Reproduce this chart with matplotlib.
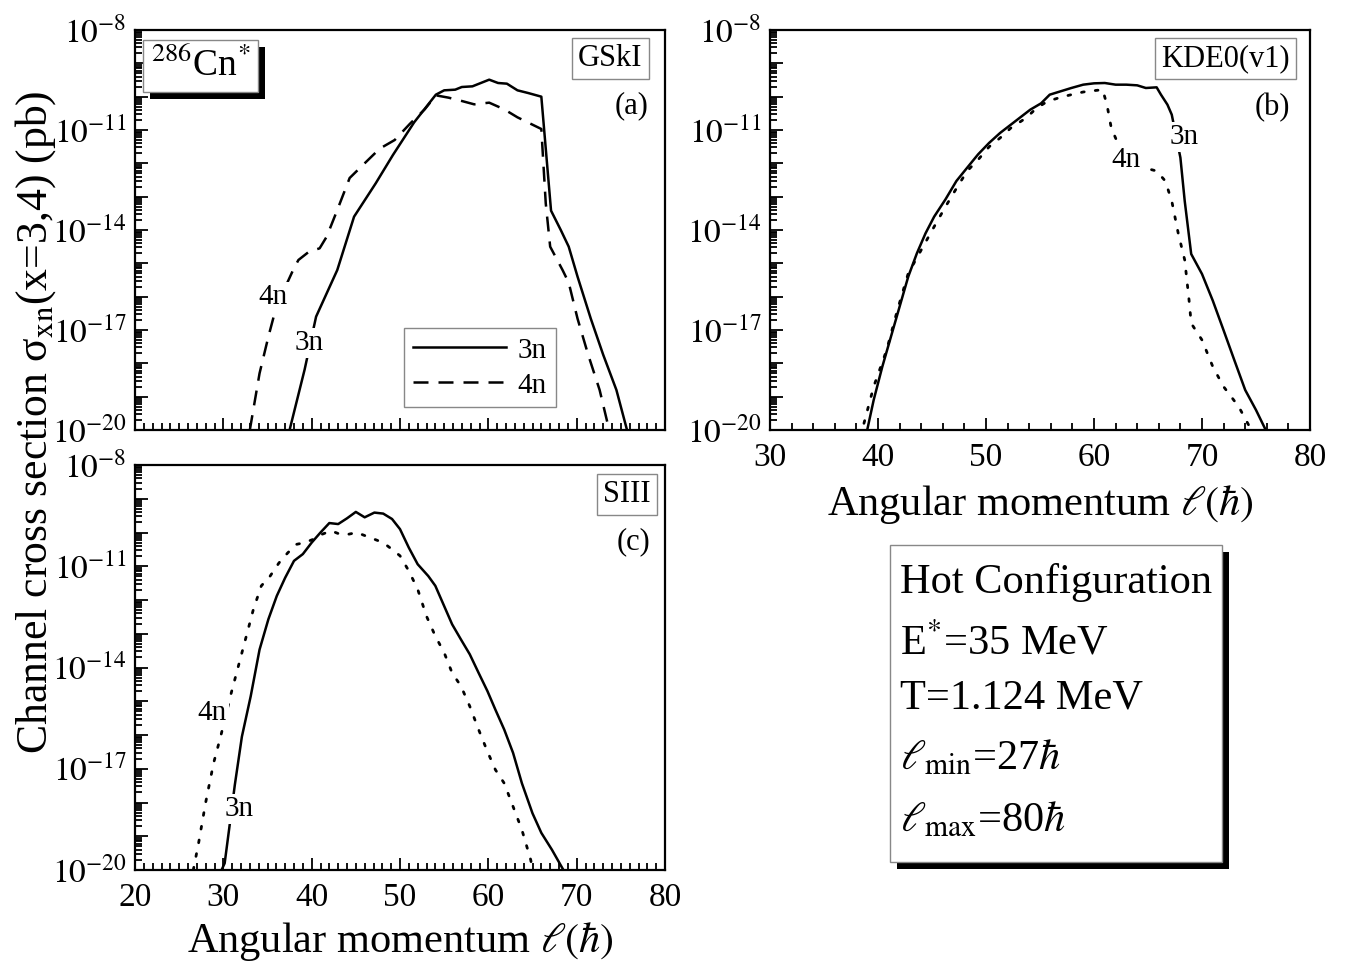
import numpy as np
import matplotlib
matplotlib.use("Agg")
import matplotlib.pyplot as plt
import matplotlib.patheffects as pe
from matplotlib.ticker import MultipleLocator, FixedLocator, NullFormatter
from matplotlib.patches import Rectangle

plt.rcParams['font.family'] = ['Liberation Serif', 'DejaVu Serif']
plt.rcParams['mathtext.fontset'] = 'stix'

# ---------------- data (log10 of cross section in pb) ----------------
# Panel (a) GSkI
a_l_3n = [37.5, 39.2, 40.5, 42.9, 44.8, 47.25, 49.2, 51.6, 54.06, 55.0, 56.25, 57.0, 58.2,
          60.1, 61.1, 62.1, 63.3, 64.5, 66.0, 67.1, 68.2, 69.1, 70.1, 71.6, 73.0, 74.5, 75.7]
a_s_3n = [-20, -18.19, -16.6, -15.2, -13.6, -12.6, -11.75, -10.77, -9.94, -9.81, -9.79, -9.71, -9.69,
          -9.49, -9.59, -9.61, -9.81, -9.89, -10.0, -13.42, -14.0, -14.5, -15.4, -16.66, -17.74, -18.8, -20]
a_l_4n = [33.0, 34.1, 35.1, 36.0, 37.9, 38.5, 39.7, 40.9, 41.7, 42.9, 44.3, 45.8, 47.7, 49.4, 51.1,
          52.8, 54.06, 55.5, 57.0, 58.4, 60.1, 61.8, 63.3, 66.0, 66.5, 67.0, 68.4, 69.1, 70.1,
          71.3, 72.6, 73.5]
a_s_4n = [-20, -18.3, -17.2, -16.3, -15.2, -14.9, -14.65, -14.55, -14.2, -13.4, -12.44, -12.05, -11.56,
          -11.3, -10.82, -10.38, -9.96, -10.03, -10.13, -10.23, -10.18, -10.38, -10.62, -10.97, -13.2,
          -14.5, -15.2, -15.58, -16.66, -17.74, -18.8, -19.8]

# Panel (b) KDE0(v1)
b_l_3n = [39.0, 39.6, 40.4, 41.2, 42.0, 42.8, 43.6, 44.4, 45.2, 46.25, 47.26, 48.26, 49.27, 50.28,
          51.3, 52.3, 53.3, 54.1, 55.1, 55.9, 56.9, 57.9, 59.0, 60.0, 61.0, 62.0, 63.0, 64.0, 64.8,
          65.8, 66.2, 66.8, 67.2, 68.0, 68.4, 69.0, 70.0, 71.0, 72.0, 73.0, 74.0, 75.0, 75.9]
b_s_3n = [-20, -19.1, -18.1, -17.2, -16.3, -15.4, -14.7, -14.1, -13.6, -13.08, -12.53, -12.13, -11.73,
          -11.39, -11.09, -10.84, -10.59, -10.39, -10.2, -9.94, -9.84, -9.74, -9.64, -9.6, -9.59,
          -9.64, -9.64, -9.66, -9.74, -9.72, -9.94, -10.24, -10.54, -11.83, -13.13, -14.72, -15.32,
          -16.12, -17.01, -17.91, -18.8, -19.4, -20]
b_l_4n = [38.7, 39.6, 40.8, 41.8, 42.8, 44.0, 45.2, 46.25, 47.3, 48.26, 49.3, 50.3, 51.3, 52.3,
          53.7, 54.7, 55.7, 56.9, 57.9, 59.0, 60.0, 60.8, 61.2, 61.6, 63.0, 64.6, 65.8, 66.6, 67.2,
          67.8, 68.4, 68.8, 69.0, 70.0, 71.0, 72.0, 73.4, 74.4]
b_s_4n = [-19.8, -18.7, -17.6, -16.4, -15.3, -14.6, -13.9, -13.3, -12.73, -12.23, -11.88, -11.5,
          -11.24, -10.94, -10.64, -10.34, -10.14, -10.02, -9.94, -9.86, -9.82, -9.79, -10.24, -10.94,
          -12.0, -12.13, -12.23, -12.53, -13.13, -14.1, -14.9, -16.1, -16.8, -17.3, -18.1, -18.7,
          -19.3, -19.9]

# Panel (c) SIII
c_l_3n = [29.8, 30.15, 30.65, 31.3, 32.1, 33.1, 34.1, 35.1, 36.05, 37.0, 38.0, 39.0, 40.0, 41.0,
          42.0, 43.0, 44.0, 45.0, 46.0, 47.1, 48.1, 49.1, 50.0, 51.0, 52.0, 53.2, 54.0, 55.0, 55.9,
          56.9, 57.9, 58.9, 59.9, 60.8, 61.8, 62.8, 63.8, 65.0, 66.0, 67.2, 68.5]
c_s_3n = [-20, -19.8, -18.8, -17.48, -16.05, -14.85, -13.47, -12.57, -11.88, -11.34, -10.84, -10.64,
          -10.3, -10.0, -9.72, -9.75, -9.58, -9.39, -9.55, -9.41, -9.44, -9.6, -9.9, -10.45, -10.94,
          -11.29, -11.58, -12.18, -12.72, -13.17, -13.61, -14.16, -14.7, -15.25, -15.84, -16.53,
          -17.43, -18.32, -18.9, -19.4, -20]
c_l_4n = [26.6, 27.2, 28.0, 28.9, 29.7, 30.9, 31.6, 32.4, 33.4, 34.3, 35.3, 36.3, 37.3, 38.3, 39.2,
          40.2, 41.2, 42.2, 43.2, 44.2, 45.1, 46.1, 47.1, 48.1, 49.1, 50.0, 51.0, 52.0, 53.0, 54.0,
          55.0, 55.9, 56.9, 57.9, 58.9, 59.9, 60.8, 61.8, 62.8, 63.8, 64.8, 65.0]
c_s_4n = [-20, -19.2, -18.0, -16.83, -16.04, -14.75, -14.06, -13.27, -12.28, -11.58, -11.29, -10.9,
          -10.6, -10.35, -10.3, -10.2, -10.05, -9.95, -10.05, -10.05, -10.0, -10.1, -10.2, -10.3,
          -10.5, -10.69, -11.14, -11.68, -12.48, -13.07, -13.56, -14.16, -14.55, -15.15, -15.84,
          -16.49, -17.03, -17.43, -18.12, -18.81, -19.7, -20]

ytick_exps = [-20, -19, -18, -17, -16, -15, -14, -13, -12, -11, -10, -9, -8]
ytick_labels = [r'$10^{-20}$', '', '', r'$10^{-17}$', '', '', r'$10^{-14}$', '', '',
                r'$10^{-11}$', '', '', r'$10^{-8}$']

# ---------------- figure ----------------
W, H = 1351, 966
fig = plt.figure(figsize=(W / 100, H / 100), dpi=100)

def px_axes(x0, y0, x1, y1):
    return fig.add_axes([x0 / W, 1 - y1 / H, (x1 - x0) / W, (y1 - y0) / H])

axA = px_axes(135, 30, 665, 430)
axB = px_axes(770, 30, 1310, 430)
axC = px_axes(135, 465, 665, 870)

minor_y = [k * 10.0 ** n for n in range(-20, -8) for k in range(2, 10)]

def style(ax, xlim, xminor, show_xlabels):
    ax.set_yscale('log')
    ax.set_ylim(1e-20, 1e-8)
    ax.set_xlim(*xlim)
    ax.yaxis.set_major_locator(FixedLocator([10.0 ** e for e in ytick_exps]))
    ax.set_yticklabels(ytick_labels)
    ax.yaxis.set_minor_locator(FixedLocator(minor_y))
    ax.yaxis.set_minor_formatter(NullFormatter())
    ax.xaxis.set_major_locator(MultipleLocator(10))
    ax.xaxis.set_minor_locator(MultipleLocator(xminor))
    ax.tick_params(which='both', direction='in', top=False, right=False, width=1.3)
    ax.tick_params(which='major', length=9, labelsize=24)
    ax.tick_params(axis='y', which='major', pad=6)
    ax.tick_params(axis='x', which='major', pad=9)
    ax.tick_params(which='minor', length=5)
    if not show_xlabels:
        ax.set_xticklabels([])
    for s in ax.spines.values():
        s.set_linewidth(1.6)

style(axA, (20, 80), 1, False)
style(axB, (30, 80), 2, True)
style(axC, (20, 80), 1, True)

lw = 1.8
dash = (0, (6, 4))
dot = (0, (1, 4))

def P(v):
    return 10.0 ** np.asarray(v)

axA.plot(a_l_3n, P(a_s_3n), color='black', lw=lw, label='3n')
axA.plot(a_l_4n, P(a_s_4n), color='black', lw=lw, ls=dash, label='4n')
axB.plot(b_l_3n, P(b_s_3n), color='black', lw=lw)
axB.plot(b_l_4n, P(b_s_4n), color='black', lw=2.0, ls=dot, dash_capstyle='round')
axC.plot(c_l_3n, P(c_s_3n), color='black', lw=lw)
axC.plot(c_l_4n, P(c_s_4n), color='black', lw=2.0, ls=dot, dash_capstyle='round')

leg = axA.legend(loc='lower left', bbox_to_anchor=(0.48, 0.02), fontsize=21, handlelength=3.2,
                 frameon=True, fancybox=False, edgecolor='#888888', framealpha=1,
                 borderpad=0.3, labelspacing=0.3, handletextpad=0.4)
leg.get_frame().set_linewidth(1.0)

def curve_label(ax, x, y, s):
    ax.text(x, 10.0 ** y, s, fontsize=21, ha='center', va='center', zorder=5,
            bbox=dict(facecolor='white', edgecolor='none', pad=1.5))

curve_label(axA, 35.6, -16.0, '4n')
curve_label(axA, 39.7, -17.4, '3n')
curve_label(axB, 68.3, -11.2, '3n')
curve_label(axB, 63.0, -11.9, '4n')
curve_label(axC, 28.7, -15.35, '4n')
curve_label(axC, 31.8, -18.2, '3n')

def boxed(ax, x, y, s):
    ax.text(x, y, s, transform=ax.transAxes, fontsize=22, ha='center', va='center', zorder=6,
            bbox=dict(boxstyle='square,pad=0.2', facecolor='white', edgecolor='#888888', lw=1.0))

boxed(axA, 0.897, 0.928, 'GSkI')
boxed(axB, 0.843, 0.929, 'KDE0(v1)')
boxed(axC, 0.928, 0.927, 'SIII')
axA.text(0.937, 0.81, '(a)', transform=axA.transAxes, fontsize=22, ha='center', va='center')
axB.text(0.93, 0.805, '(b)', transform=axB.transAxes, fontsize=22, ha='center', va='center')
axC.text(0.94, 0.81, '(c)', transform=axC.transAxes, fontsize=22, ha='center', va='center')

shadow = [pe.SimplePatchShadow(offset=(5, -5), shadow_rgbFace='black', alpha=1.0), pe.Normal()]

t = axA.text(0.124, 0.91, r'$^{286}$Cn$^{*}$', transform=axA.transAxes, fontsize=27,
             ha='center', va='center', zorder=6,
             bbox=dict(boxstyle='square,pad=0.2', facecolor='white', edgecolor='#888888', lw=1.0))
t.get_bbox_patch().set_path_effects(shadow)

axB.set_xlabel(r'Angular momentum $\ell(\hbar)$', fontsize=30.5, labelpad=7)
axC.set_xlabel(r'Angular momentum $\ell(\hbar)$', fontsize=30.5, labelpad=5)
fig.text(0.026, 0.563, r'Channel cross section σ$_{\rm xn}$(x=3,4) (pb)', rotation=90,
         fontsize=31.5, ha='center', va='center')

# Hot configuration info box
bx0, by0, bx1, by1 = 890, 545, 1222, 862
rect = Rectangle((bx0 / W, 1 - by1 / H), (bx1 - bx0) / W, (by1 - by0) / H,
                 transform=fig.transFigure, facecolor='white', edgecolor='#888888', lw=1.0)
rect.set_path_effects([pe.SimplePatchShadow(offset=(5, -5), shadow_rgbFace='black', alpha=1.0),
                       pe.Normal()])
fig.patches.append(rect)
info_lines = ['Hot Configuration', r'E$^{*}$=35 MeV', 'T=1.124 MeV',
              r'$\ell_{\rm min}$=27$\hbar$', r'$\ell_{\rm max}$=80$\hbar$']
info_y = [582, 643, 698, 758, 820]
for s, yy in zip(info_lines, info_y):
    fig.text(900 / W, 1 - yy / H, s, fontsize=30.5, ha='left', va='center')

fig.savefig('out.png', dpi=100)
